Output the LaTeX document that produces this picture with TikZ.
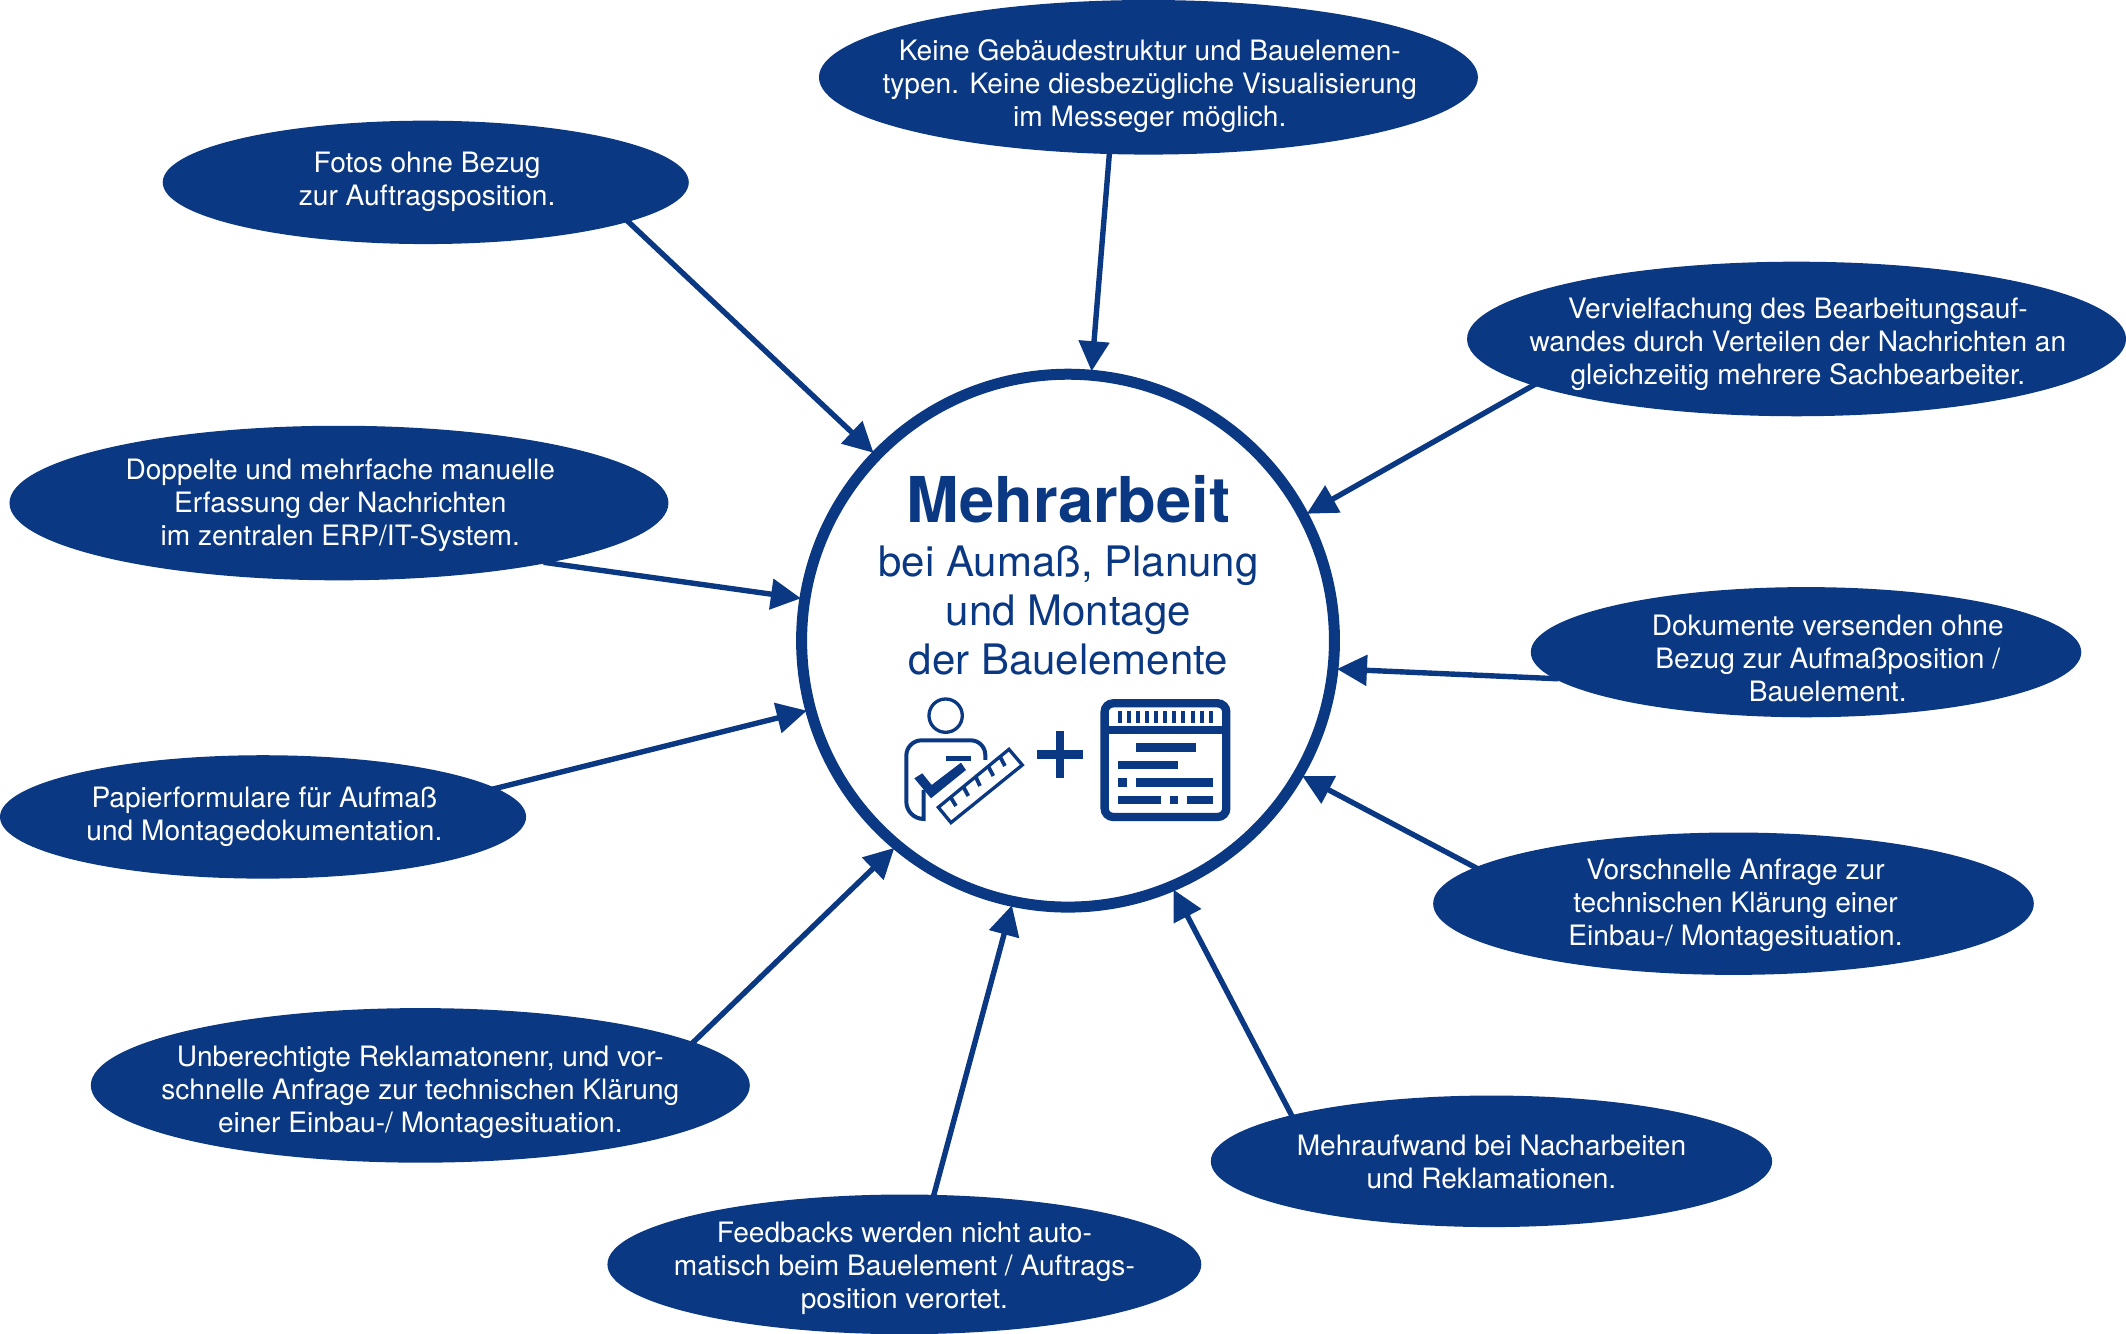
\documentclass[tikz,border=0pt]{standalone}
\usepackage{fontspec}
\setmainfont{TeX Gyre Heros}
\usetikzlibrary{shapes.geometric,arrows.meta,backgrounds}
\definecolor{navy}{HTML}{0A3882}
\newcommand{\bubble}[6]{%
  % name, centre, rx, ry, text centre, text
  \node[bub,minimum width={2*#3*1.3559pt},minimum height={2*#4*1.3559pt}] (#1) at (#2) {};
  \node[bubtext] (#1t) at (#5) {#6};
}
\tikzset{
  bub/.style={ellipse,fill=navy,inner sep=0pt,outer sep=0pt},
  bubtext/.style={text=white,align=center,inner sep=0pt,font=\fontsize{28.1pt}{33pt}\selectfont},
  conn/.style={draw=navy,line width=5.4pt,shorten <=-4pt,shorten >=-1.5pt,-{Triangle[length=30pt,width=30pt]}},
  maintext/.style={text=navy,align=center,inner sep=0pt},
  iconfill/.style={fill=navy,draw=none},
}
\begin{document}
\begin{tikzpicture}[x=1.3559pt,y=-1.3559pt]
\useasboundingbox (0,0) rectangle (1568,983.8);
\node[circle,draw=navy,line width=11pt,minimum size={2*196.5*1.3559pt},inner sep=0pt] (hub) at (787.7,472.5) {};
\bubble{top}{847,57}{243}{57}{848,63.5}{Keine Gebäudestruktur und Bauelemen-\\typen. Keine diesbezügliche Visualisierung\\im Messeger möglich.}
\bubble{fotos}{314,134.5}{194}{45.5}{315,134}{Fotos ohne Bezug\\zur Auftragsposition.}
\bubble{verv}{1325,250}{243}{57}{1326,254}{Vervielfachung des Bearbeitungsauf-\\wandes durch Verteilen der Nachrichten an\\gleichzeitig mehrere Sachbearbeiter.}
\bubble{dopp}{250,371}{243}{57}{251,372.5}{Doppelte und mehrfache manuelle\\Erfassung der Nachrichten\\im zentralen ERP/IT-System.}
\bubble{doku}{1332,481}{203}{48}{1348,486}{Dokumente versenden ohne\\Bezug zur Aufmaßposition /\\Bauelement.}
\bubble{papier}{194,602.5}{194}{45.5}{195,602.5}{Papierformulare für Aufmaß\\und Montagedokumentation.}
\bubble{vorsch}{1278.5,666.5}{221.5}{52.5}{1280,667.5}{Vorschnelle Anfrage zur\\technischen Klärung einer\\Einbau-/ Montagesituation.}
\bubble{unber}{310,800.5}{243}{57}{310,805.5}{Unberechtigte Reklamatonenr, und vor-\\schnelle Anfrage zur technischen Klärung\\einer Einbau-/ Montagesituation.}
\bubble{mehr}{1100,856.5}{207}{48.5}{1100,857}{Mehraufwand bei Nacharbeiten\\und Reklamationen.}
\bubble{feed}{667,932.5}{219}{51.5}{667,935.5}{Feedbacks werden nicht auto-\\matisch beim Bauelement / Auftrags-\\position verortet.}
\begin{pgfonlayer}{background}
\draw[conn] (top.-117.4) -- (hub.85.4);
\draw[conn] (fotos.-11) -- (hub.136);
\draw[conn] (verv.190) -- (hub.28.7);
\draw[conn] (dopp.-16) -- (hub.171);
\draw[conn] (doku.186.3) -- (hub.-6.3);
\draw[conn] (papier.7.5) -- (hub.195.3);
\draw[conn] (vorsch.172.1) -- (hub.-30.4);
\draw[conn] (unber.9.1) -- (hub.230);
\draw[conn] (mehr.167.6) -- (hub.-67.7);
\draw[conn] (feed.67.4) -- (hub.258.6);
\end{pgfonlayer}
\node[maintext,font=\bfseries\fontsize{63.2pt}{63pt}\selectfont] (title) at (788,368) {Mehrarbeit};
\node[maintext,font=\fontsize{42pt}{49pt}\selectfont] (sub) at (788,450.5) {bei Aumaß, Planung\\und Montage\\der Bauelemente};
\begin{scope}[shift={(634.27,494.13)},x=0.3333pt,y=-0.3333pt]
  % person
  \draw[navy,line width=3.3pt] (257,137) circle (50);
  \draw[navy,line width=4pt] (376,270) -- (376,255) arc[start angle=0,end angle=90,x radius=44,y radius=-44] -- (185,211) arc[start angle=90,end angle=180,x radius=46,y radius=-46] -- (139,395) arc[start angle=180,end angle=270,x radius=52,y radius=-52] -- (191,360);
  \path[iconfill] (257,258) rectangle (332,272);
  \path[iconfill] (163,325) -- (187,310) -- (215,345) -- (303,278) -- (318,300) -- (213,385) -- cycle;
  % ruler
  \draw[navy,line width=3.3pt,fill=white] (235,412) -- (447,238) -- (487,285) -- (273,458) -- cycle;
  \foreach \a/\b/\c/\d in {272/382/288/408, 310/350/325/378, 347/320/360/348, 385/289/400/318, 420/260/435/288}
    \draw[navy,line width=3.8pt] (\a,\b) -- (\c,\d);
  % plus
  \path[iconfill] (587,183) rectangle (612,325);
  \path[iconfill] (530,241) rectangle (670,267);
  % window
  \draw[navy,line width=8.3pt,rounded corners=8.5pt] (734,100) rectangle (1099,441);
  \path[iconfill] (722,168) rectangle (1111,193);
  \foreach \s in {775,802,829,856,883,910,937,964,992,1019,1047}
    \path[iconfill] (\s,122) rectangle ++(12.5,38);
  \foreach \a/\b/\c/\d in {827/219/1007/245, 775/272/955/297, 775/325/800/350, 827/325/1060/350, 775/377/903/402, 930/377/955/402, 982/377/1060/402}
    \path[iconfill] (\a,\b) rectangle (\c,\d);
\end{scope}
\end{tikzpicture}
\end{document}
